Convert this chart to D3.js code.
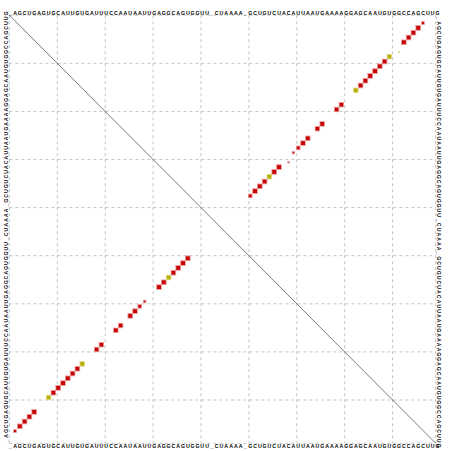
<!DOCTYPE html>
<html>
<head>
<meta charset="utf-8">
<script src="https://cdn.jsdelivr.net/npm/d3@7"></script>
<style>
  body { margin: 0; background: #fff; }
  text { font-family: "Liberation Sans", Arial, sans-serif; font-weight: bold; }
</style>
</head>
<body>
<svg id="dp" width="452" height="451"></svg>
<script>
// consensus sequence, "_" = gap
var sequence = "AGCUGAGUGCAUUGUGAUUUCCAAUAAUUGAGGCAGUGGUU_CUAAAA_GCUGUCUACAUUAAUGAAAAGGAGCAAUGUGGCCAGCUUG";

// base pairs (i < j), pair probabilities (upper / lower triangle) and colour class
// (0 = one pair type, 1 = two pair types)
var pairI    = [1, 2, 3, 4, 5,  7, 8, 9, 10, 11, 12, 13, 14, 15,  18, 19, 22, 23, 25, 26, 27, 28,  30,  31, 32, 33, 34, 35, 36, 37];
var pairJ    = [86, 85, 84, 83, 82,  81, 79, 78, 77, 76, 75, 74, 73, 72,  69, 68, 65, 64, 62, 61, 60, 59,  58,  56, 55, 54, 53, 52, 51, 50];
var probUp   = [0.35, 0.95, 0.95, 0.95, 0.95,  0.06, 0.9, 0.95, 0.95, 0.95, 0.95, 0.95, 0.95, 0.9,  0.9, 0.9, 0.9, 0.9, 0.9, 0.9, 0.6, 0.25,  0.12,  0.95, 0.95, 0.95, 0.95, 0.95, 0.95, 0.6];
var probLow  = [0.35, 0.95, 0.95, 0.95, 0.95,  0, 0.9, 0.95, 0.95, 0.95, 0.95, 0.95, 0.95, 0.9,  0.9, 0.9, 0.9, 0.9, 0.9, 0.9, 0.6, 0.3,  0,  0.95, 0.95, 0.95, 0.95, 0.95, 0.95, 0.95];
var pairKind = [0, 0, 0, 0, 0,  1, 1, 0, 0, 0, 0, 0, 0, 1,  0, 0, 0, 0, 0, 0, 0, 0,  0,  0, 0, 1, 0, 0, 0, 0];

var N = sequence.length;
var svg = d3.select("#dp");

// nucleotide centres (dots and letters)
var x = d3.scaleLinear().domain([0, N]).range([10.2, 10.2 + 4.8 * N]);
var y = d3.scaleLinear().domain([0, N]).range([18.3, 18.3 + 4.8 * N]);
// frame and grid
var gx = d3.scaleLinear().domain([0, N]).range([9.4, 9.4 + 4.79 * N]);
var gy = d3.scaleLinear().domain([0, N]).range([15.2, 15.2 + 4.81 * N]);
var cell = x(1) - x(0);

var fillColor = ["#c40000", "#b8b000"];
var edgeColor = ["#eaa0a0", "#e0dc90"];

// grid every 10 nt plus frame
var ticks = d3.range(0, N + 1, 10).concat([N]);
var grid = svg.append("g")
  .attr("stroke", "#aaa")
  .attr("stroke-width", 0.7)
  .attr("stroke-dasharray", "3,3");
grid.selectAll("line.v").data(ticks).enter().append("line")
  .attr("x1", function(d) { return gx(d); }).attr("x2", function(d) { return gx(d); })
  .attr("y1", gy(0)).attr("y2", gy(N));
grid.selectAll("line.h").data(ticks).enter().append("line")
  .attr("y1", function(d) { return gy(d); }).attr("y2", function(d) { return gy(d); })
  .attr("x1", gx(0)).attr("x2", gx(N));

// diagonal
svg.append("line")
  .attr("x1", gx(0)).attr("y1", gy(0))
  .attr("x2", gx(N)).attr("y2", gy(N))
  .attr("stroke", "#222").attr("stroke-width", 0.6);

// sequence on all four sides
var letters = ("_" + sequence).split("");
var seqG = svg.append("g").attr("font-size", 5.2).attr("fill", "#000").attr("text-anchor", "middle");
seqG.selectAll("text.top").data(letters).enter().append("text")
  .attr("x", function(d, k) { return x(k); }).attr("y", 14.8)
  .text(function(d) { return d; });
seqG.selectAll("text.bottom").data(letters).enter().append("text")
  .attr("x", function(d, k) { return x(k); }).attr("y", 447.5)
  .text(function(d) { return d; });
seqG.selectAll("text.left").data(letters).enter().append("text")
  .attr("transform", function(d, k) { return "translate(7.5," + y(88 - k) + ") rotate(-90)"; })
  .text(function(d) { return d; });
seqG.selectAll("text.right").data(letters).enter().append("text")
  .attr("transform", function(d, k) { return "translate(437," + y(k) + ") rotate(90)"; })
  .text(function(d) { return d; });

// build pair table
var pairs = pairI.map(function(d, k) {
  return { i: d, j: pairJ[k], up: probUp[k], low: probLow[k], kind: pairKind[k] };
});

function side(p) { return Math.sqrt(p) * cell; }

// upper right: probabilities (x = j, y = i), lower left: mirrored (x = i, y = j)
var boxes = svg.append("g").attr("stroke-width", 0.8);
boxes.selectAll("rect.up").data(pairs.filter(function(d) { return d.up > 0; })).enter().append("rect")
  .attr("width", function(d) { return side(d.up); })
  .attr("height", function(d) { return side(d.up); })
  .attr("x", function(d) { return x(d.j) - side(d.up) / 2; })
  .attr("y", function(d) { return y(d.i) - side(d.up) / 2; })
  .attr("fill", function(d) { return fillColor[d.kind]; })
  .attr("stroke", function(d) { return edgeColor[d.kind]; });
boxes.selectAll("rect.low").data(pairs.filter(function(d) { return d.low > 0; })).enter().append("rect")
  .attr("width", function(d) { return side(d.low); })
  .attr("height", function(d) { return side(d.low); })
  .attr("x", function(d) { return x(d.i) - side(d.low) / 2; })
  .attr("y", function(d) { return y(d.j) - side(d.low) / 2; })
  .attr("fill", function(d) { return fillColor[d.kind]; })
  .attr("stroke", function(d) { return edgeColor[d.kind]; });
</script>
</body>
</html>
